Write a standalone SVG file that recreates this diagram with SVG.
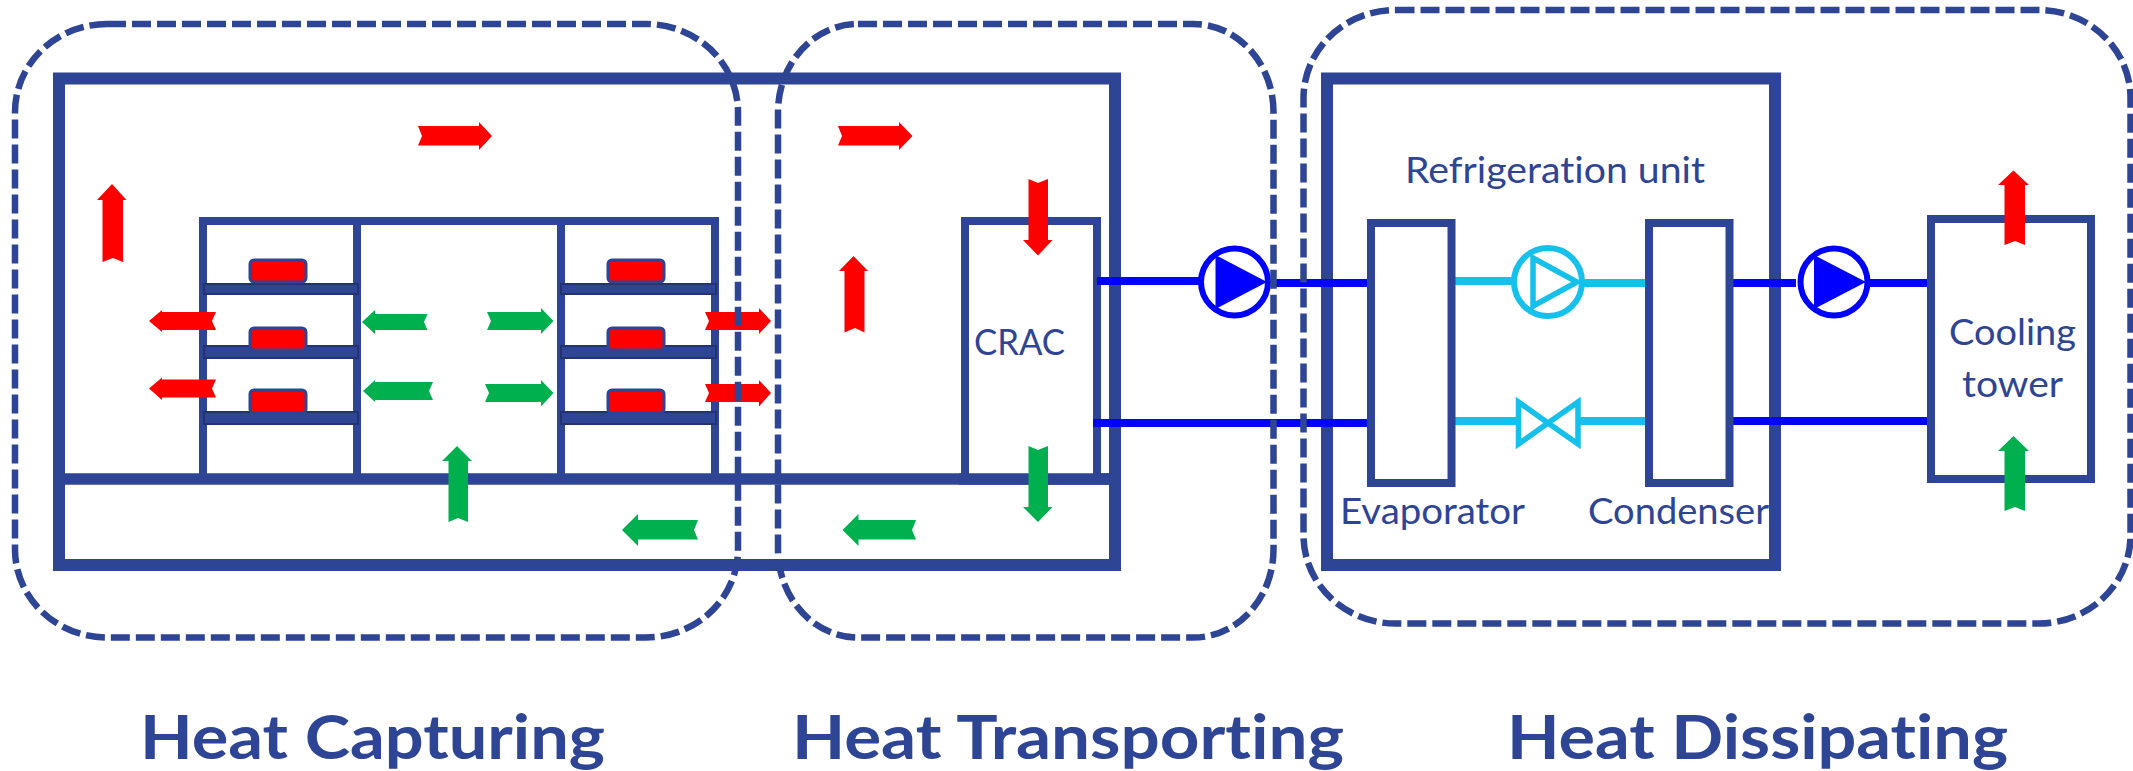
<svg xmlns="http://www.w3.org/2000/svg" width="2133" height="771" viewBox="0 0 2133 771">
<style>
.box{fill:none;stroke:#2e4494;stroke-width:12}
.thin{fill:#fff;stroke:#2e4494;stroke-width:8}
.open{fill:none;stroke:#2e4494;stroke-width:8}
.bar{fill:none;stroke:#2e4494;stroke-width:11.5}
.shelf{fill:#2e4494;stroke:#22336f;stroke-width:2}
.chip{fill:#ff0000;stroke:#2e4494;stroke-width:3}
.dash{fill:none;stroke:#2e4494;stroke-width:6.5;stroke-dasharray:19 6}
.hot{fill:#ff0000;filter:url(#soft)}
.cold{fill:#00b050;filter:url(#soft)}
.pipe{fill:none;stroke:#0000ff;stroke-width:8}
.ref{fill:none;stroke:#15c0ea;stroke-width:8}
.refs{fill:#fff;stroke:#15c0ea;stroke-width:5.5}
.refc{fill:#fff;stroke:#15c0ea;stroke-width:6}
.pumpc{fill:#fff;stroke:#0000ff;stroke-width:6}
.pumpt{fill:#0000ff}
text{font-family:"Lato","Open Sans","Liberation Sans",sans-serif;fill:#2e4494;font-variant-ligatures:none}
.lab{font-size:37px}
.head{font-size:62px;font-weight:700}
</style>
<defs><filter id="soft" x="-10%" y="-10%" width="120%" height="120%"><feGaussianBlur stdDeviation="0.7"/></filter></defs>
<rect width="2133" height="771" fill="#fff"/>

<g id="room">
<rect class="box" x="59" y="78.500" width="1056" height="486.500"/>
</g>
<g id="racks">
<rect class="open" x="203" y="221" width="512" height="258"/>
<path class="open" d="M357 221V479M561 221V479"/>
</g>
<g id="floor"><path class="bar" d="M53 479H1115"/></g>
<g id="shelves">
<rect class="shelf" x="204" y="284" width="154" height="10"/>
<rect class="shelf" x="204" y="346" width="154" height="12"/>
<rect class="shelf" x="204" y="412" width="154" height="12"/>
<rect class="shelf" x="561" y="284" width="155" height="10"/>
<rect class="shelf" x="561" y="346" width="155" height="12"/>
<rect class="shelf" x="561" y="412" width="155" height="12"/>
</g>
<g id="chips">
<rect class="chip" x="250" y="260" width="56" height="22" rx="4"/>
<rect class="chip" x="250" y="328" width="56" height="22" rx="4"/>
<rect class="chip" x="250" y="390" width="56" height="23" rx="4"/>
<rect class="chip" x="608" y="260" width="56" height="22" rx="4"/>
<rect class="chip" x="608" y="328" width="56" height="22" rx="4"/>
<rect class="chip" x="608" y="390" width="56" height="23" rx="4"/>
</g>
<g id="crac">
<rect class="thin" x="965" y="221" width="132" height="258"/>
<path class="bar" d="M959 479H1115"/>
<text class="lab" x="974" y="355" textLength="91" lengthAdjust="spacingAndGlyphs">CRAC</text>
</g>
<g id="refrigeration-unit">
<rect class="box" x="1327" y="78.500" width="448" height="486.500"/>
<text class="lab" x="1405" y="183" textLength="300" lengthAdjust="spacingAndGlyphs">Refrigeration unit</text>
</g>
<g id="connectors">
<path class="pipe" d="M1097 281H1200M1271 283H1371M1093 423H1371"/>
<path class="ref" d="M1451 281H1513M1583 283H1649M1451 421H1518M1579 421H1649"/>
<path class="pipe" d="M1729 283H1796M1870 283H1931M1729 421H1931"/>
</g>
<g id="evaporator">
<rect class="thin" x="1371" y="223" width="80.500" height="260"/>
<text class="lab" x="1340" y="524" textLength="185" lengthAdjust="spacingAndGlyphs">Evaporator</text>
</g>
<g id="condenser">
<rect class="thin" x="1649" y="223" width="80.500" height="260"/>
<text class="lab" x="1588" y="524" textLength="181" lengthAdjust="spacingAndGlyphs">Condenser</text>
</g>
<g id="cooling-tower">
<rect class="thin" x="1931" y="219" width="160" height="260"/>
<text class="lab" x="1949" y="345" textLength="127" lengthAdjust="spacingAndGlyphs">Cooling</text>
<text class="lab" x="1962" y="397" textLength="101" lengthAdjust="spacingAndGlyphs">tower</text>
</g>
<g id="pump-1">
<circle class="pumpc" cx="1234.500" cy="282" r="33.500"/>
<polygon class="pumpt" points="1215.500,255 1267,282 1215.500,309"/>
</g>
<g id="pump-2">
<circle class="pumpc" cx="1834" cy="282" r="33.500"/>
<polygon class="pumpt" points="1814,255 1866,282 1814,309"/>
</g>
<g id="compressor">
<circle class="refc" cx="1548" cy="282" r="34"/>
<polygon class="refs" points="1533,258 1577,282 1533,306"/>
</g>
<g id="expansion-valve">
<polygon class="refs" points="1518.500,402 1548,423 1518.500,444"/>
<polygon class="refs" points="1578,402 1548,423 1578,444"/>
</g>
<g id="airflow">
<polygon class="hot" points="418,126 479,126 479,122 492,136 479,150 479,145.500 418,145.500 422,136"/>
<polygon class="hot" points="838,126 899,126 899,122 912.500,136 899,150 899,145.500 838,145.500 842,136"/>
<polygon class="hot" points="102.500,262 102.500,200 97,200 112,184 126.500,200 123,200 123,262 113,258"/>
<polygon class="hot" points="844.500,332.500 844.500,271 839,271 853.500,256 868,271 864.500,271 864.500,332.500 855,328"/>
<polygon class="hot" points="216,312 162,312 162,310 149,321 162,332 162,330 216,330 212,321"/>
<polygon class="hot" points="216,379.500 162,379.500 162,377.500 149,388.500 162,400 162,397.500 216,397.500 212,388.500"/>
<polygon class="hot" points="705,312 759,312 759,308 771,321 759,334 759,330 705,330 709,321"/>
<polygon class="hot" points="705,384 759,384 759,380 771,393 759,406.500 759,402 705,402 709,393"/>
<polygon class="hot" points="1028.500,179 1038,183 1048,179 1048,240 1052.500,240 1038,255.500 1023,240 1028.500,240"/>
<polygon class="hot" points="2004.500,245 2004.500,185 1998,185 2013.500,170.500 2029,185 2025,185 2025,245 2015,241"/>
<polygon class="cold" points="427.500,314 375,314 375,310 362,322 375,334 375,330 427.500,330 424,322"/>
<polygon class="cold" points="433,382 375,382 375,380 363,391 375,402 375,400 433,400 429,391"/>
<polygon class="cold" points="487,312 541,312 541,308 553.500,321 541,334 541,330 487,330 491,321"/>
<polygon class="cold" points="485,384 541,384 541,380 553.500,393 541,406.500 541,402 485,402 489,393"/>
<polygon class="cold" points="448.500,522 448.500,461 442,461 457,446 472,461 468,461 468,522 458,518"/>
<polygon class="cold" points="698,520 638,520 638,514 622,530 638,546 638,539.500 698,539.500 694,530"/>
<polygon class="cold" points="916,520 858.500,520 858.500,514 842.500,530 858.500,546 858.500,539.500 916,539.500 912,530"/>
<polygon class="cold" points="1028.500,446 1038,450 1048,446 1048,507 1052.500,507 1038,522 1023,507 1028.500,507"/>
<polygon class="cold" points="2004.500,511 2004.500,451 1998,451 2013.500,436 2029,451 2025,451 2025,511 2015,507"/>
</g>
<g id="heat-capturing">
<rect class="dash" x="15" y="24" width="723" height="613.500" rx="92" ry="88"/>
<text class="head" x="140" y="759" textLength="465" lengthAdjust="spacingAndGlyphs">Heat Capturing</text>
</g>
<g id="heat-transporting">
<rect class="dash" x="778" y="24" width="495.500" height="613.500" rx="80" ry="88"/>
<text class="head" x="792" y="759" textLength="552" lengthAdjust="spacingAndGlyphs">Heat Transporting</text>
</g>
<g id="heat-dissipating">
<rect class="dash" x="1303.500" y="10" width="827" height="613.500" rx="92" ry="88"/>
<text class="head" x="1507" y="759" textLength="501" lengthAdjust="spacingAndGlyphs">Heat Dissipating</text>
</g>
</svg>
